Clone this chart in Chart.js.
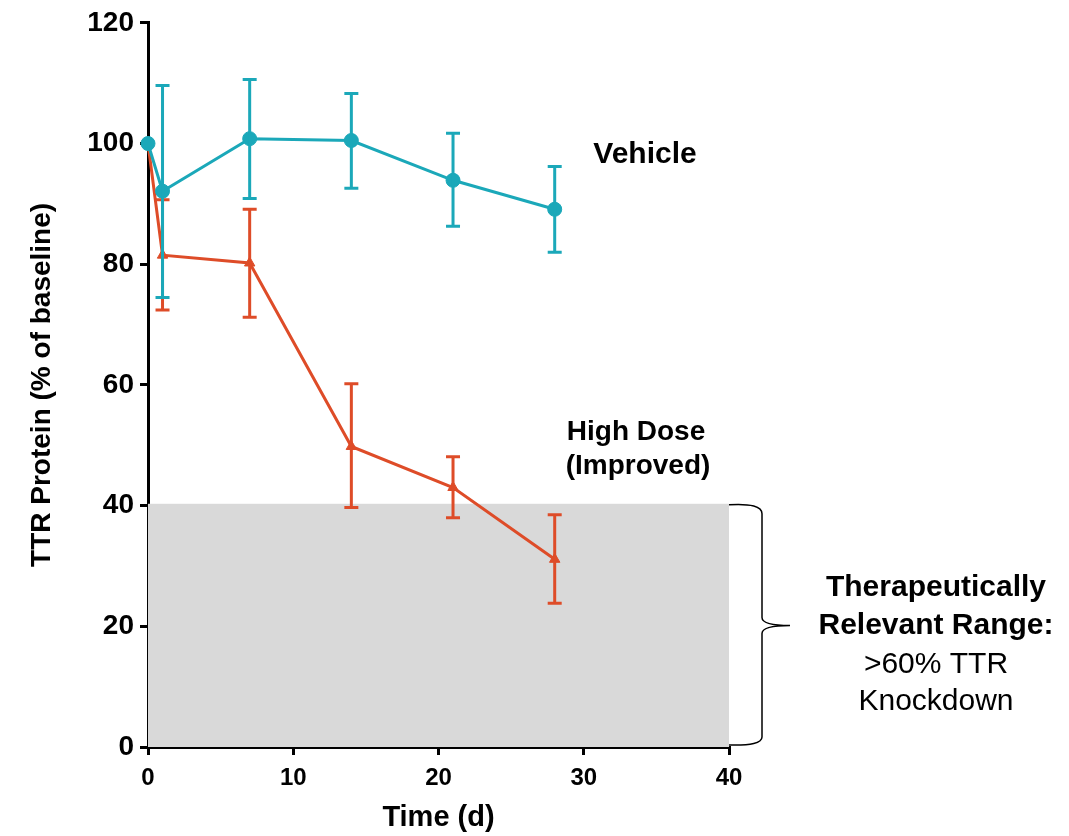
<!DOCTYPE html>
<html lang="en">
<head>
    <meta charset="UTF-8">
    <title>TTR Protein</title>
    <script src="https://cdn.jsdelivr.net/npm/chart.js"></script>
    <style>
        html, body { margin: 0; padding: 0; background: #fff; }
        #wrap { width: 1069px; height: 836px; }
    </style>
</head>
<body>
    <div id="wrap">
        <canvas id="ttrChart" width="1069" height="836"></canvas>
    </div>
    <script>
        // days
        const days = [0, 1, 7, 14, 21, 28];
        // vehicle group
        const vehicleMean = [100, 92.1, 100.8, 100.5, 93.9, 89.1];
        const vehicleHigh = [100, 109.6, 110.6, 108.3, 101.7, 96.2];
        const vehicleLow = [100, 74.5, 90.9, 92.6, 86.3, 82.0];
        // high dose group
        const highDoseMean = [100, 81.5, 80.2, 49.8, 43.0, 31.1];
        const highDoseHigh = [100, 90.7, 89.1, 60.2, 48.1, 38.5];
        const highDoseLow = [100, 72.4, 71.2, 39.7, 38.0, 23.8];
        // shaded range
        const rangeTop = 40.3;
        const rangeEnd = 40;

        const teal = '#1ba8b9';
        const orange = '#de4c28';
        const font = "'Liberation Sans', Arial, sans-serif";

        const toPoints = (ys) => days.map((d, i) => ({ x: d, y: ys[i] }));

        const shadePlugin = {
            id: 'shade',
            beforeDatasetsDraw(chart) {
                const { ctx, scales: { x, y } } = chart;
                ctx.save();
                ctx.fillStyle = '#d9d9d9';
                const x0 = x.getPixelForValue(0), x1 = x.getPixelForValue(rangeEnd);
                const y0 = y.getPixelForValue(0), y1 = y.getPixelForValue(rangeTop);
                ctx.fillRect(x0, y1, x1 - x0, y0 - y1);
                ctx.restore();
            }
        };

        const errorPlugin = {
            id: 'errors',
            afterDatasetsDraw(chart) {
                const { ctx, scales: { x, y } } = chart;
                const groups = [
                    { lo: highDoseLow, hi: highDoseHigh, color: orange },
                    { lo: vehicleLow, hi: vehicleHigh, color: teal }
                ];
                ctx.save();
                ctx.lineWidth = 3;
                groups.forEach(g => {
                    ctx.strokeStyle = g.color;
                    days.forEach((d, i) => {
                        if (g.hi[i] === g.lo[i]) return;
                        const px = x.getPixelForValue(d);
                        const pt = y.getPixelForValue(g.hi[i]);
                        const pb = y.getPixelForValue(g.lo[i]);
                        ctx.beginPath();
                        ctx.moveTo(px, pt); ctx.lineTo(px, pb);
                        ctx.moveTo(px - 7, pt); ctx.lineTo(px + 7, pt);
                        ctx.moveTo(px - 7, pb); ctx.lineTo(px + 7, pb);
                        ctx.stroke();
                    });
                });
                ctx.restore();
            },
            afterDraw(chart) {
                const { ctx, scales: { x, y } } = chart;
                // brace beside the range
                const top = y.getPixelForValue(rangeTop);
                const bot = y.getPixelForValue(0);
                const mid = (top + bot) / 2;
                const xl = x.getPixelForValue(rangeEnd);
                const xv = xl + 33;
                ctx.save();
                ctx.strokeStyle = '#000';
                ctx.lineWidth = 1.5;
                ctx.beginPath();
                ctx.moveTo(xl, top + 1);
                ctx.quadraticCurveTo(xv, top - 1, xv, top + 10);
                ctx.lineTo(xv, mid - 8);
                ctx.quadraticCurveTo(xv, mid, xv + 28, mid);
                ctx.moveTo(xv + 28, mid);
                ctx.quadraticCurveTo(xv, mid, xv, mid + 8);
                ctx.lineTo(xv, bot - 10);
                ctx.quadraticCurveTo(xv, bot - 1, xl, bot - 2);
                ctx.stroke();

                // labels
                ctx.fillStyle = '#000';
                ctx.textAlign = 'center';
                ctx.textBaseline = 'middle';
                ctx.font = 'bold 30px ' + font;
                ctx.fillText('Vehicle', 645, 155);
                ctx.font = 'bold 28px ' + font;
                ctx.fillText('High Dose', 636, 432);
                ctx.fillText('(Improved)', 638, 466);
                ctx.font = 'bold 30px ' + font;
                ctx.fillText('Therapeutically', 936, 588);
                ctx.fillText('Relevant Range:', 936, 626);
                ctx.font = '30px ' + font;
                ctx.fillText('>60% TTR', 936, 665);
                ctx.fillText('Knockdown', 936, 702);
                ctx.restore();
            }
        };

        new Chart(document.getElementById('ttrChart').getContext('2d'), {
            type: 'scatter',
            data: {
                datasets: [{
                    label: 'High Dose (Improved)',
                    data: toPoints(highDoseMean),
                    order: 2,
                    showLine: true,
                    clip: false,
                    borderColor: orange,
                    backgroundColor: orange,
                    borderWidth: 3,
                    pointStyle: 'triangle',
                    pointRadius: 6,
                    pointBorderWidth: 1
                }, {
                    label: 'Vehicle',
                    data: toPoints(vehicleMean),
                    order: 1,
                    showLine: true,
                    clip: false,
                    borderColor: teal,
                    backgroundColor: teal,
                    borderWidth: 3,
                    pointStyle: 'circle',
                    pointRadius: 7,
                    pointBorderWidth: 1
                }]
            },
            options: {
                responsive: false,
                animation: false,
                layout: { padding: { left: 0, right: 340, top: 21, bottom: 0 } },
                plugins: { legend: { display: false }, tooltip: { enabled: false } },
                scales: {
                    x: {
                        type: 'linear', min: 0, max: 40,
                        afterFit: (s) => { s.height = 89; },
                        border: { color: '#000', width: 3 },
                        grid: { drawOnChartArea: false, drawTicks: true, tickLength: 8, color: '#000', lineWidth: 3 },
                        ticks: { stepSize: 10, color: '#000', padding: 9, font: { family: font, size: 24, weight: 'bold' } },
                        title: { display: true, text: 'Time (d)', color: '#000', padding: { top: 0, bottom: 1 }, font: { family: font, size: 29, weight: 'bold' } }
                    },
                    y: {
                        type: 'linear', min: 0, max: 120,
                        afterFit: (s) => { s.width = 148; },
                        border: { color: '#000', width: 3 },
                        grid: { drawOnChartArea: false, drawTicks: true, tickLength: 8, color: '#000', lineWidth: 3 },
                        ticks: { stepSize: 20, color: '#000', padding: 6, font: { family: font, size: 28, weight: 'bold' } },
                        title: { display: true, text: 'TTR Protein (% of baseline)', color: '#000', padding: { top: 25, bottom: 0 }, font: { family: font, size: 28, weight: 'bold' } }
                    }
                }
            },
            plugins: [shadePlugin, errorPlugin]
        });
    </script>
</body>
</html>
